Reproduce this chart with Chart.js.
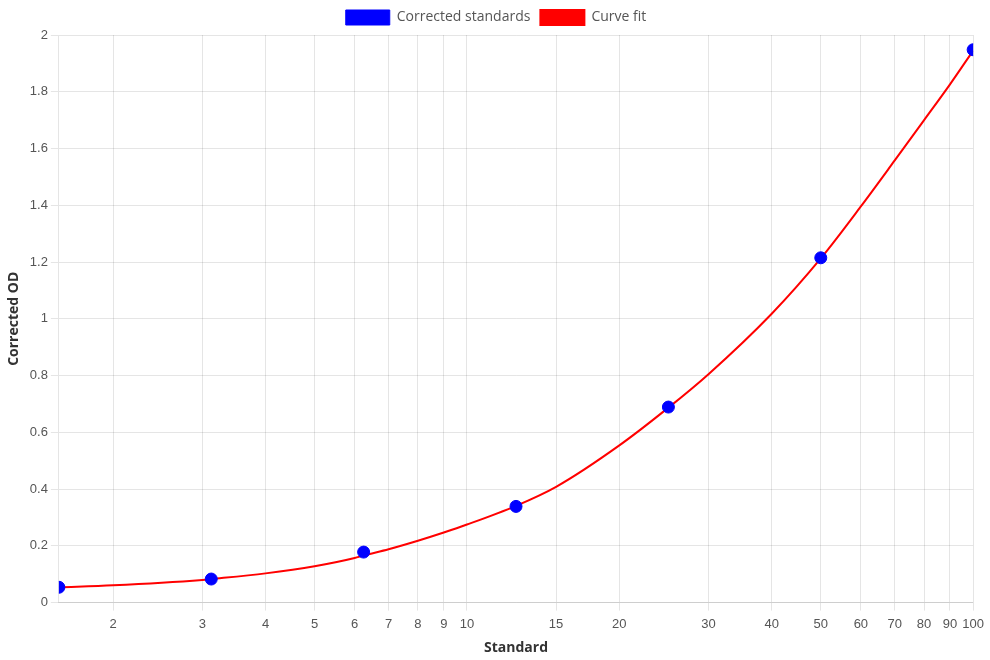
<!DOCTYPE html>
<html>
<head>
<meta charset="utf-8">
<script src="https://cdn.jsdelivr.net/npm/chart.js@4/dist/chart.umd.min.js"></script>
<style>
  html, body { margin: 0; padding: 0; background: #fff; }
  #wrap { width: 990px; height: 660px; }
</style>
</head>
<body>
<div id="wrap"><canvas id="curveChart"></canvas></div>
<script>
// Standards (serial dilution) and measured OD
const standardX = [1.5625, 3.125, 6.25, 12.5, 25, 50, 100];
const standardOD = [0.054, 0.083, 0.178, 0.339, 0.689, 1.215, 1.948];

// Fitted curve
const fitX = [1.5625, 2, 3, 3.125, 4, 5, 6, 6.25, 7, 8, 9, 10, 12.5, 15, 20, 25, 30, 40, 50, 60, 70, 80, 90, 100];
const fitOD = [0.054, 0.061, 0.080, 0.083, 0.103, 0.128, 0.157, 0.166, 0.188, 0.218, 0.247, 0.275, 0.341, 0.408, 0.554, 0.687, 0.805, 1.018, 1.213, 1.396, 1.558, 1.700, 1.826, 1.945];

const xTicks = [2, 3, 4, 5, 6, 7, 8, 9, 10, 15, 20, 30, 40, 50, 60, 70, 80, 90, 100];

const tickFont = { family: "'Liberation Sans', Arial, sans-serif", size: 13 };
const titleFont = { family: "'Open Sans', 'Noto Sans', sans-serif", size: 14, weight: 'bold' };

function toPoints(xs, ys) {
    return xs.map((x, i) => ({ x: x, y: ys[i] }));
}

new Chart(document.getElementById('curveChart').getContext('2d'), {
    type: 'scatter',
    data: {
        datasets: [
            {
                label: 'Corrected standards',
                data: toPoints(standardX, standardOD),
                backgroundColor: '#0000ff',
                borderColor: '#0000ff',
                pointRadius: 6,
                pointHoverRadius: 6,
                order: 0
            },
            {
                label: 'Curve fit',
                type: 'line',
                data: toPoints(fitX, fitOD),
                borderColor: '#ff0000',
                backgroundColor: '#ff0000',
                borderWidth: 2,
                pointRadius: 0,
                showLine: true,
                fill: false,
                cubicInterpolationMode: 'monotone',
                order: 1
            }
        ]
    },
    options: {
        responsive: true,
        maintainAspectRatio: false,
        animation: false,
        layout: { padding: { left: 2, right: 0, bottom: 0 } },
        scales: {
            x: {
                type: 'logarithmic',
                min: 1.5625,
                max: 100,
                afterBuildTicks: (axis) => {
                    axis.ticks = xTicks.map(v => ({ value: v }));
                },
                ticks: {
                    color: '#555',
                    font: tickFont,
                    padding: 6,
                    autoSkip: false,
                    maxRotation: 0,
                    callback: (v) => String(v)
                },
                title: {
                    display: true,
                    text: 'Standard',
                    color: '#333',
                    font: titleFont,
                    padding: { top: 1, bottom: 4 }
                }
            },
            y: {
                min: 0,
                max: 2,
                ticks: {
                    stepSize: 0.2,
                    color: '#555',
                    font: tickFont,
                    callback: (v) => String(Number(v.toFixed(1)))
                },
                title: { display: true, text: 'Corrected OD', color: '#333', font: titleFont }
            }
        },
        plugins: {
            legend: {
                position: 'top',
                labels: {
                    boxWidth: 44,
                    boxHeight: 15,
                    color: '#555',
                    font: { family: "'Open Sans', 'Noto Sans', sans-serif", size: 14 }
                }
            },
            tooltip: { enabled: false }
        }
    }
});
</script>
</body>
</html>
